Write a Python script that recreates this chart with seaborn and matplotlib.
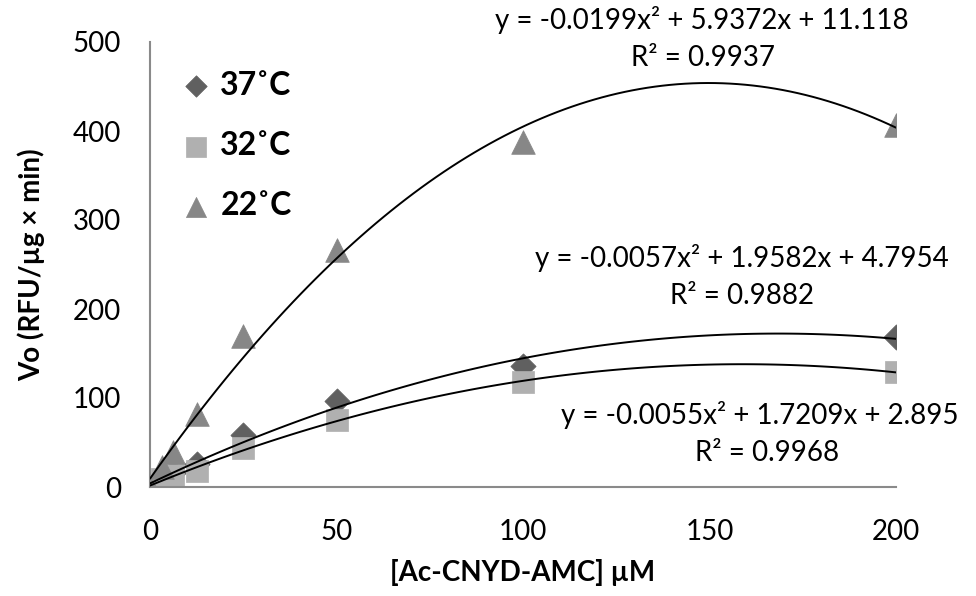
import numpy as np
import pandas as pd
import matplotlib
matplotlib.use("Agg")
import matplotlib.pyplot as plt
import seaborn as sns

# ---- data ----
conc = [0, 3.125, 6.25, 12.5, 25, 50, 100, 200]
v37 = [0, 8, 16, 26, 58, 97, 136, 168]
v32 = [0, 9, 13, 18, 44, 75, 118, 129]
v22 = [0, 22, 39, 82, 170, 266, 388, 407]
series_labels = ["37˚C", "32˚C", "22˚C"]
eq_lines = ["y = -0.0199x² + 5.9372x + 11.118",
            "y = -0.0057x² + 1.9582x + 4.7954",
            "y = -0.0055x² + 1.7209x + 2.895"]
r2_lines = ["R² = 0.9937", "R² = 0.9882", "R² = 0.9968"]
x_ticks = [0, 50, 100, 150, 200]
y_ticks = [0, 100, 200, 300, 400, 500]

df = pd.DataFrame({
    "conc": conc * 3,
    "vo": v37 + v32 + v22,
    "temp": [series_labels[0]] * len(conc) + [series_labels[1]] * len(conc) + [series_labels[2]] * len(conc),
})

sns.set_theme(style="white")
plt.rcParams["font.family"] = ["Lato", "DejaVu Sans"]

fig = plt.figure(figsize=(9.76, 5.96), dpi=100)
ax = fig.add_axes([150 / 976, 1 - 487 / 596, 746 / 976, 445 / 596])

palette = {series_labels[0]: "#606060", series_labels[1]: "#b0b0b0", series_labels[2]: "#878787"}
markers = {series_labels[0]: "D", series_labels[1]: "s", series_labels[2]: "^"}
sizes = {series_labels[0]: 165, series_labels[1]: 260, series_labels[2]: 290}

for lab in series_labels:
    sub = df[df["temp"] == lab]
    sns.scatterplot(data=sub, x="conc", y="vo", marker=markers[lab], color=palette[lab],
                    s=sizes[lab], edgecolor=palette[lab], linewidth=0.5, ax=ax,
                    label=lab, zorder=2)

for lab in series_labels:
    sub = df[df["temp"] == lab]
    sns.regplot(data=sub, x="conc", y="vo", order=2, ci=None, scatter=False, ax=ax,
                line_kws={"color": "black", "lw": 1.4, "zorder": 3})

ax.set_xlim(0, 200)
ax.set_ylim(0, 500)
ax.set_xticks(x_ticks)
ax.set_yticks(y_ticks)
for s in ["top", "right"]:
    ax.spines[s].set_visible(False)
for s in ["left", "bottom"]:
    ax.spines[s].set_color("#8a8a8a")
    ax.spines[s].set_linewidth(1.5)
ax.tick_params(axis="both", which="both", direction="out", colors="#8a8a8a",
               labelcolor="black", labelsize=20, width=1.5)
ax.tick_params(axis="x", length=9, pad=14)
ax.tick_params(axis="y", length=7, pad=14)
ax.grid(False)

ax.set_xlabel("[Ac-CNYD-AMC] µM", fontsize=20, fontweight="bold", labelpad=10, color="black")
ax.set_ylabel("Vo (RFU/µg × min)", fontsize=20, fontweight="bold", labelpad=20, color="black")

handles, labels = ax.get_legend_handles_labels()
leg = ax.legend(handles[:3], labels[:3], loc="upper left", bbox_to_anchor=(0.0, 1.0),
                frameon=False, prop={"size": 23, "weight": "bold"},
                labelspacing=0.98, handletextpad=0.2, markerscale=0.85,
                handlelength=1.1)
for t in leg.get_texts():
    t.set_color("black")

eq_pos = [(702, 20), (742, 258), (760, 415)]
r2_pos = [(703, 58), (742, 296), (767, 453)]
for txt, (px, py) in zip(eq_lines, eq_pos):
    fig.text(px / 976, 1 - py / 596, txt, ha="center", va="center", fontsize=20, color="black")
for txt, (px, py) in zip(r2_lines, r2_pos):
    fig.text(px / 976, 1 - py / 596, txt, ha="center", va="center", fontsize=20, color="black")

fig.savefig("out.png", dpi=100)
